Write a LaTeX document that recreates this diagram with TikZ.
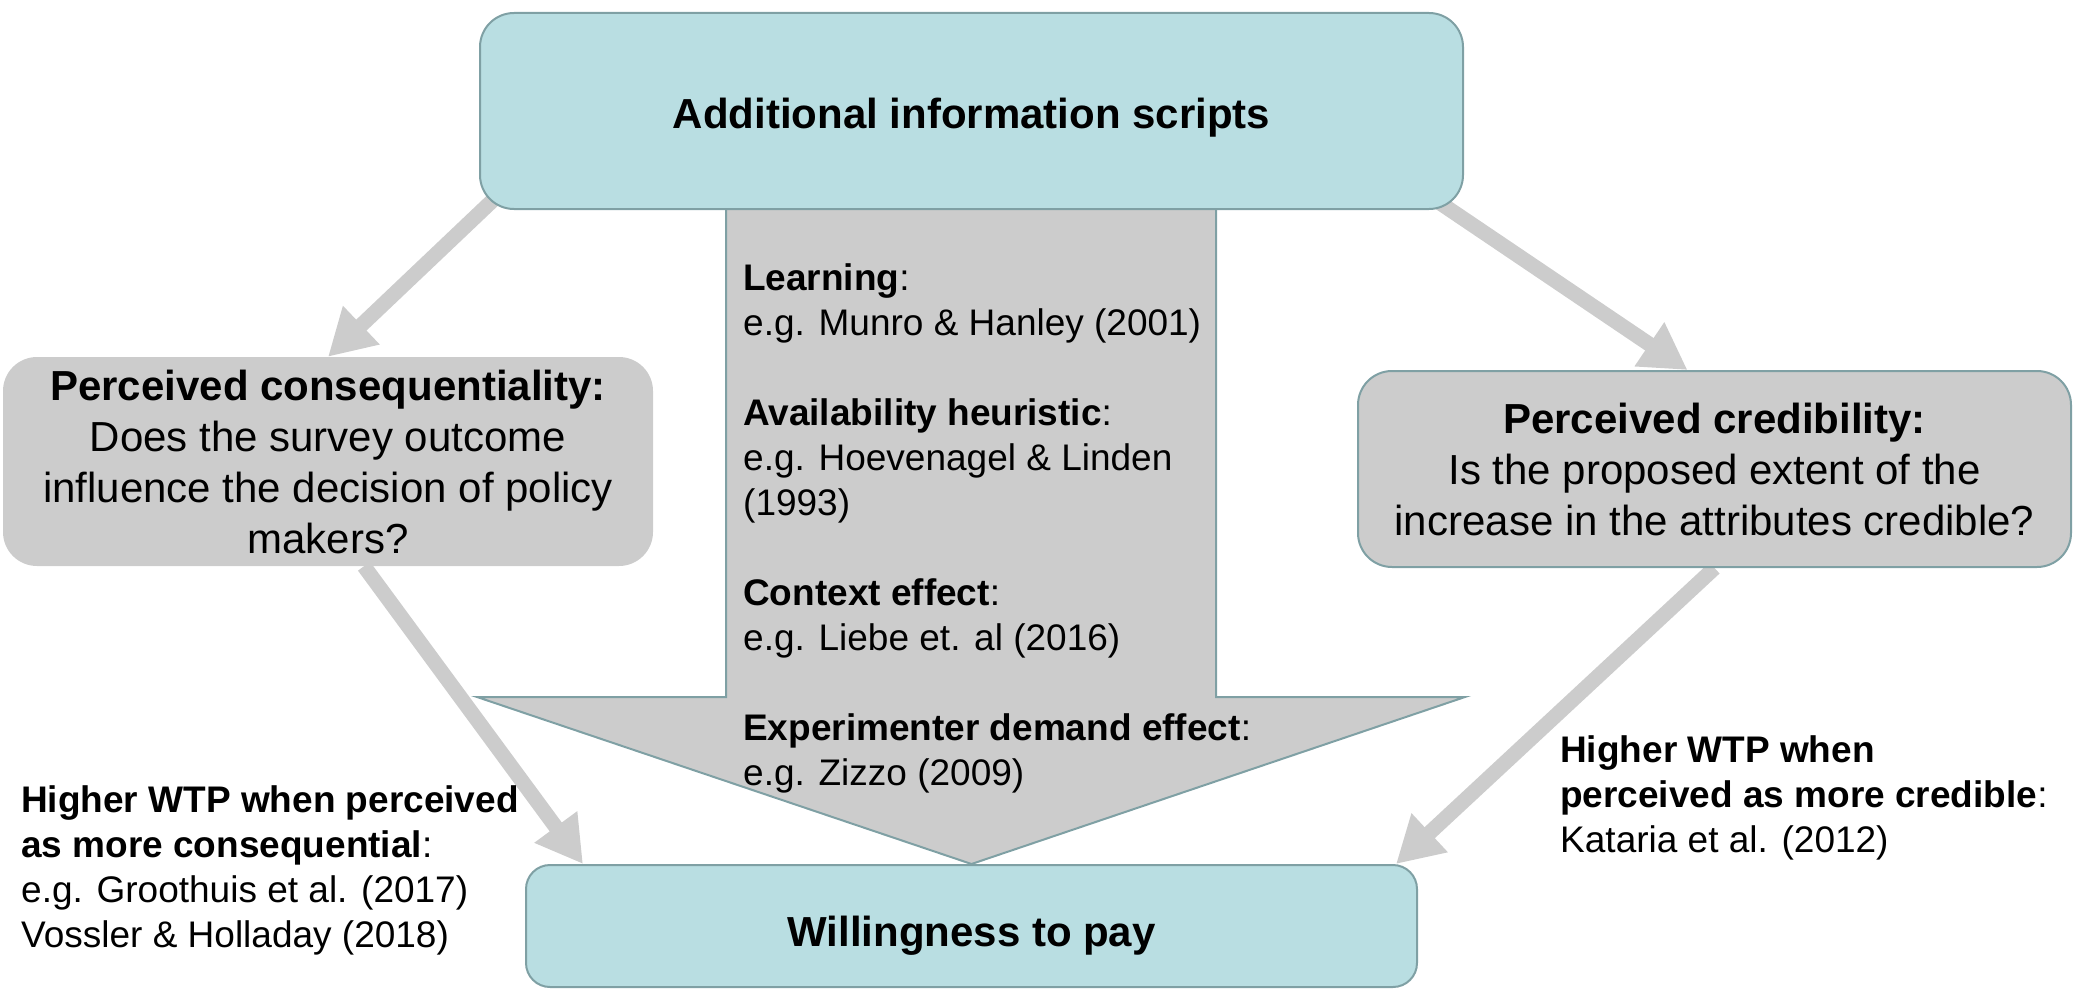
\documentclass[tikz,border=0pt]{standalone}
\usepackage{fontspec}
\setmainfont{Liberation Sans}
\usetikzlibrary{arrows.meta,backgrounds}

\definecolor{scriptteal}{HTML}{B9DEE2}
\definecolor{edgeteal}{HTML}{7FA0A4}
\definecolor{palegrey}{HTML}{CCCCCC}

\tikzset{
  box/.style={rounded corners=34pt,align=center,inner sep=0pt},
  bigtext/.style={font=\fontsize{42}{51}\selectfont},
  smalltext/.style={font=\fontsize{37}{45}\selectfont},
  flow/.style={draw=palegrey,line width=15pt,-{Triangle[length=46pt,width=50pt]}},
}

\begin{document}
\begin{tikzpicture}[x=1pt,y=-1pt]
\useasboundingbox (0,0) rectangle (2073,990);

\node[box,bigtext,fill=scriptteal,draw=edgeteal,line width=2pt,minimum width=983pt,minimum height=196pt,text height=35pt,text depth=0pt] (scripts) at (971.5,111) {\textbf{Additional information scripts}};
\node[box,bigtext,fill=palegrey,minimum width=650pt,minimum height=209pt] (conseq) at (328,461.5)
  {\textbf{Perceived consequentiality:}\\Does the survey outcome\\influence the decision of policy\\makers?};
\node[box,bigtext,fill=palegrey,draw=edgeteal,line width=2pt,minimum width=713pt,minimum height=196pt] (cred) at (1714.5,469)
  {\textbf{Perceived credibility:}\\Is the proposed extent of the\\increase in the attributes credible?};
\node[box,bigtext,fill=scriptteal,draw=edgeteal,line width=2pt,rounded corners=24pt,minimum width=891pt,minimum height=122pt,text height=40pt,text depth=0pt] (wtp) at (971.5,926) {\textbf{Willingness to pay}};

\node[smalltext,align=left,anchor=north west,inner sep=0pt] (refs) at (743,263)
  {\textbf{Learning}:\\e.g. Munro \& Hanley (2001)\\[45pt]
   \textbf{Availability heuristic}:\\e.g. Hoevenagel \& Linden\\(1993)\\[45pt]
   \textbf{Context effect}:\\e.g. Liebe et. al (2016)\\[45pt]
   \textbf{Experimenter demand effect}:\\e.g. Zizzo (2009)};

\node[smalltext,align=left,anchor=north west,inner sep=0pt] (conseqnote) at (21,785)
  {\textbf{Higher WTP when perceived}\\\textbf{as more consequential}:\\e.g. Groothuis et al. (2017)\\Vossler \& Holladay (2018)};
\node[smalltext,align=left,anchor=north west,inner sep=0pt] (crednote) at (1560,735)
  {\textbf{Higher WTP when}\\\textbf{perceived as more credible}:\\Kataria et al. (2012)};

\begin{pgfonlayer}{background}
  % wide arrow behind the reference list
  \draw[draw=edgeteal,fill=palegrey,line width=2pt]
    (726,150) -- (726,697) -- (477,697) -- (wtp.north) -- (1465,697) -- (1216,697) -- (1216,150) -- cycle;
  \draw[flow] ([xshift=32pt,yshift=27pt]scripts.south west) -- (conseq.north);
  \draw[flow] ([xshift=-55pt,yshift=28pt]scripts.south east) -- ([xshift=-27pt]cred.north);
  \draw[flow] ([xshift=36pt]conseq.south) -- ([xshift=58pt]wtp.north west);
  \draw[flow] (cred.south) -- ([xshift=-22pt]wtp.north east);
\end{pgfonlayer}
\end{tikzpicture}
\end{document}
